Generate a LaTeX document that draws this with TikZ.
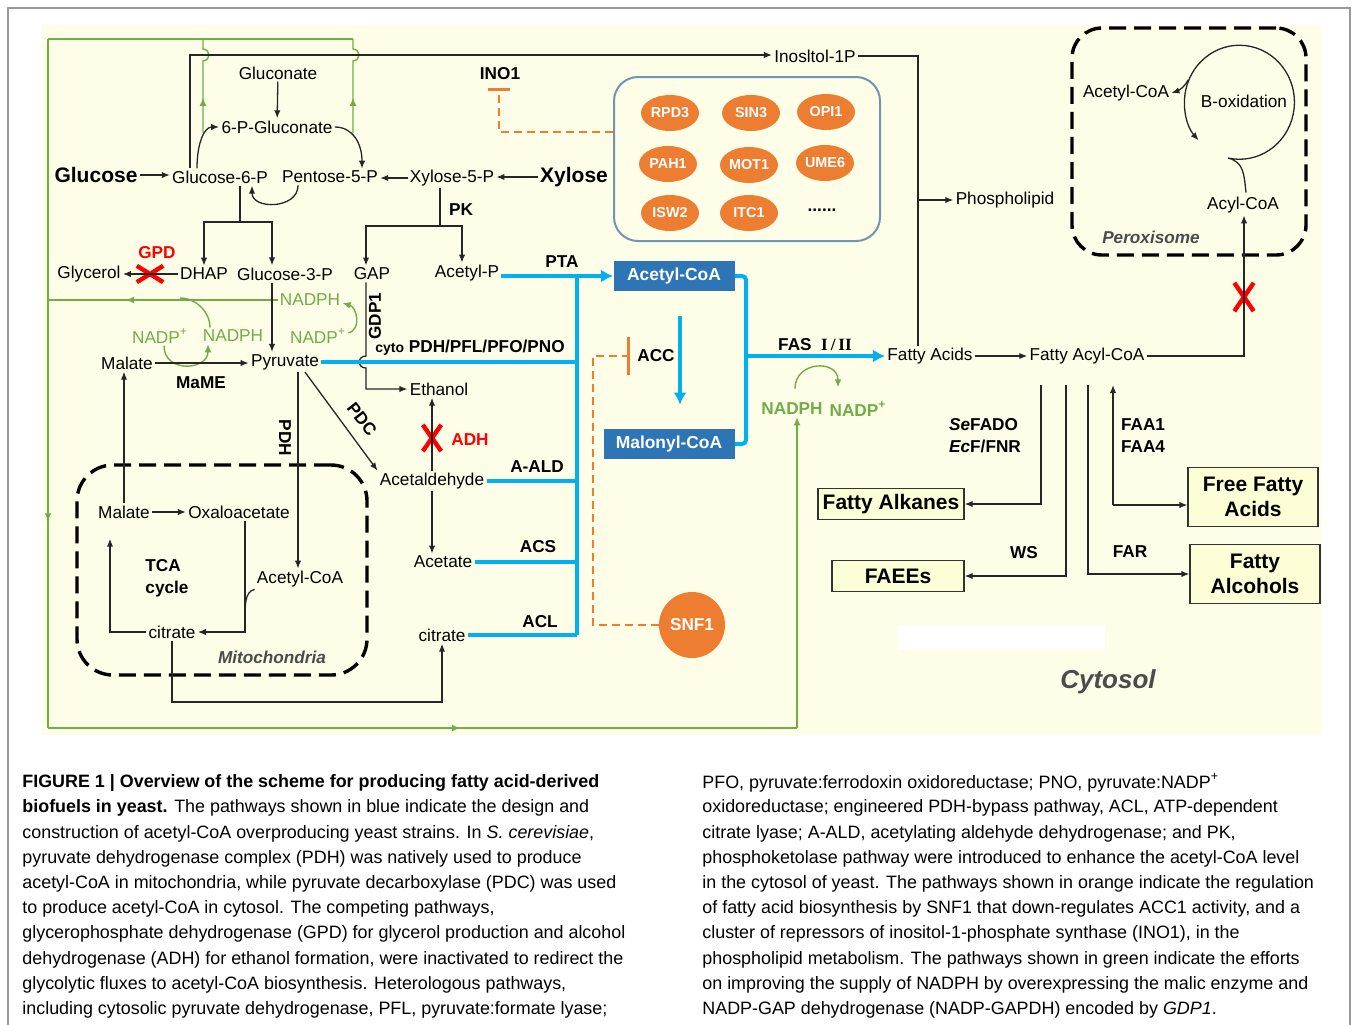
\documentclass[tikz,border=0pt]{standalone}
\usepackage{fontspec}
\setmainfont{Liberation Sans}
\newfontfamily\romannum{Liberation Serif}
\usetikzlibrary{positioning,arrows.meta,calc,shapes.geometric,shapes.misc,decorations.markings}
\definecolor{mybg}{RGB}{254,254,232}
\definecolor{mycyan}{RGB}{0,176,240}
\definecolor{myboxblue}{RGB}{46,117,182}
\definecolor{myorange}{RGB}{237,125,49}
\definecolor{mygreen}{RGB}{112,173,71}
\definecolor{myred}{RGB}{255,0,0}
\definecolor{mysteel}{RGB}{110,150,180}
\definecolor{myprod}{RGB}{254,254,214}
\definecolor{mygray}{RGB}{75,75,75}

\begin{document}
\begin{tikzpicture}[x=0.5pt,y=-0.5pt,
  met/.style={font=\fontsize{8.6}{10}\selectfont,inner sep=1pt},
  bigmet/.style={font=\fontsize{10.5}{12}\selectfont\bfseries,inner sep=1pt},
  enz/.style={font=\fontsize{8.6}{11}\selectfont\bfseries,inner sep=1pt},
  gtxt/.style={met,text=mygreen},
  gbold/.style={enz,text=mygreen},
  ko/.style={enz,text=myred},
  complab/.style={font=\fontsize{8.6}{10}\selectfont\bfseries\itshape,text=mygray},
  xmark/.style 2 args={cross out,draw=myred,line width=2.2pt,minimum width=#1,minimum height=#2,inner sep=0pt},
  bluebox/.style={fill=myboxblue,text=white,font=\fontsize{8.7}{10}\selectfont\bfseries,minimum height=15pt,inner sep=2pt},
  reg/.style={ellipse,fill=myorange,text=white,font=\fontsize{7.2}{9}\selectfont\bfseries,minimum width=29pt,minimum height=18pt,inner sep=0pt},
  prod/.style={draw=black!80,line width=0.6pt,fill=myprod,font=\fontsize{10.5}{12.5}\selectfont\bfseries,align=center,inner sep=2pt},
  blk/.style={draw=black!85,line width=0.65pt},
  flow/.style={blk,-{Latex[length=4pt,width=3.2pt]}},
  bflow/.style={draw=mycyan,line width=2pt},
  barrow/.style={bflow,-{Latex[length=6pt,width=6.5pt]}},
  gflow/.style={draw=mygreen,line width=0.7pt},
  garrow/.style={gflow,-{Latex[length=4pt,width=3.5pt]}},
  odash/.style={draw=myorange,line width=1.1pt,dash pattern=on 4pt off 2.5pt},
  compart/.style={draw=black,line width=1.7pt,dash pattern=on 8.5pt off 4pt,rounded corners=18pt},
  midtip/.style={postaction={decorate},decoration={markings,mark=at position #1 with {\arrow{Latex[length=4pt,width=3.5pt]}}}},
  captxt/.style={anchor=west,font=\fontsize{8.95}{10}\selectfont,inner sep=0pt}]

  \useasboundingbox (0,0) rectangle (1358,1024);
  \fill[white] (0,0) rectangle (1358,1024);
  \draw[black!40,line width=0.6pt] (8,1030) -- (8,8) -- (1350,8) -- (1350,1030);
  \fill[mybg] (42,25) rectangle (1322,735);
  \fill[white] (898,625) rectangle (1105,650);

  % compartments
  \node[compart,minimum width=145pt,minimum height=105pt] (mito) at (222,570) {};
  \node[compart,rounded corners=15pt,minimum width=117pt,minimum height=113.5pt] (perox) at (1189,141.5) {};
  \node[draw=mysteel,line width=1pt,rounded corners=12pt,minimum width=133pt,minimum height=82pt] (regbox) at (747,159) {};

  % pentose phosphate part
  \node[met] (gluconate) at (278,73) {Gluconate};
  \node[met] (pglu) at (277,127) {6-P-Gluconate};
  \node[bigmet] (glucose) at (96,175) {Glucose};
  \node[met] (g6p) at (220,177) {Glucose-6-P};
  \node[met] (p5p) at (330,177) {Pentose-5-P};
  \node[met] (x5p) at (452,178) {Xylose-5-P};
  \node[bigmet] (xylose) at (574,177) {Xylose};
  \node[met] (ino1p) at (815,56) {Inosltol-1P};
  \node[enz] (ino1) at (500,74) {INO1};
  \node[met] (plipid) at (1005,200) {Phospholipid};
  \node[enz] (pk) at (461,210) {PK};

  % glycolysis row
  \node[ko] (gpd) at (157,253) {GPD};
  \node[met] (glycerol) at (89,274) {Glycerol};
  \node[met] (dhap) at (204,274) {DHAP};
  \node[met] (g3p) at (285,274) {Glucose-3-P};
  \node[met] (gap) at (372,274) {GAP};
  \node[met] (acp) at (467,273) {Acetyl-P};
  \node[enz] (pta) at (562,262) {PTA};
  \node[xmark={11pt}{6pt}] (xgpd) at (150,274) {};

  % NADPH supply
  \node[gtxt] (nadph2) at (310,300) {NADPH};
  \node[gtxt] (nadp1) at (160,336) {NADP\textsuperscript{+}};
  \node[gtxt] (nadph1) at (233,336) {NADPH};
  \node[gtxt] (nadp2) at (318,336) {NADP\textsuperscript{+}};
  \node[enz,rotate=90] (gdp1) at (375,316) {GDP1};
  \node[enz] (cyto) at (470,348) {{\fontsize{7}{8}\selectfont cyto} PDH/PFL/PFO/PNO};

  % pyruvate node and branches
  \node[met] (malate) at (127,363) {Malate};
  \node[met] (pyr) at (285,362) {Pyruvate};
  \node[enz] (mame) at (201,383) {MaME};
  \node[met] (ethanol) at (439,389) {Ethanol};
  \node[enz,rotate=-90] (pdhlab) at (285,438) {PDH};
  \node[enz,rotate=-52] (pdc) at (362,419) {PDC};
  \node[xmark={7pt}{11pt}] (xadh) at (432,438) {};
  \node[ko] (adh) at (470,440) {ADH};
  \node[met] (acald) at (432,481) {Acetaldehyde};
  \node[enz] (aald) at (537,467) {A-ALD};
  \node[met] (acetate) at (443,562) {Acetate};
  \node[enz] (acs) at (538,547) {ACS};
  \node[met] (citrate) at (442,635) {citrate};
  \node[enz] (acl) at (540,622) {ACL};

  % mitochondria
  \node[met] (mmal) at (124,512) {Malate};
  \node[met] (oxa) at (239,512) {Oxaloacetate};
  \node[enz,align=left] (tca) at (167,578) {TCA\\cycle};
  \node[met] (macoa) at (300,579) {Acetyl-CoA};
  \node[met] (mcit) at (172,632) {citrate};
  \node[complab] (mitolab) at (272,657) {Mitochondria};

  % acetyl-CoA and malonyl-CoA
  \node[bluebox,minimum width=60.5pt] (acoa) at (674,276) {Acetyl-CoA};
  \node[bluebox,minimum width=65.5pt] (malcoa) at (669,444) {Malonyl-CoA};
  \node[enz] (acc) at (656,356) {ACC};
  \node[circle,fill=myorange,text=white,font=\fontsize{8.6}{10}\selectfont\bfseries,minimum size=33pt,inner sep=0pt] (snf1) at (692,625) {SNF1};

  % regulators of INO1
  \foreach \g/\x/\y in {RPD3/670/113,SIN3/751/113,OPI1/826/112,PAH1/668/164,MOT1/749/165,UME6/825/163,ISW2/670/213,ITC1/749/213}
    \node[reg] (\g) at (\x,\y) {\g};
  \node[enz] (dots) at (822,210) {......};

  % fatty acids
  \node[enz] (fas) at (815,345) {FAS~~{\romannum\bfseries I\,/\,II}};
  \node[met] (fa) at (930,356) {Fatty Acids};
  \node[met] (facoa) at (1087,356) {Fatty Acyl-CoA};
  \node[gbold] (nadph3) at (792,409) {NADPH};
  \node[gbold] (nadp3) at (858,409) {NADP\textsuperscript{+}};

  % peroxisome
  \node[met] (pacoa) at (1126,93) {Acetyl-CoA};
  \node[met] (boxid) at (1244,101) {B-oxidation};
  \node[met] (acyl) at (1243,205) {Acyl-CoA};
  \node[complab] (peroxlab) at (1151,237) {Peroxisome};
  \node[xmark={7.5pt}{12pt}] (xperox) at (1244,297) {};

  % products
  \node[prod,minimum width=73pt,minimum height=15.5pt] (alkanes) at (891,504) {Fatty Alkanes};
  \node[prod,minimum width=66pt,minimum height=15.5pt] (faees) at (898,576) {FAEEs};
  \node[prod,minimum width=65pt,minimum height=29.5pt] (ffa) at (1253,497) {Free Fatty\\Acids};
  \node[prod,minimum width=65pt,minimum height=29.5pt] (falc) at (1255,574) {Fatty\\Alcohols};
  \node[enz,align=left] (fado) at (985,436) {\textit{Se}FADO\\\textit{Ec}F/FNR};
  \node[enz,align=left] (faa) at (1143,436) {FAA1\\FAA4};
  \node[enz] (ws) at (1024,553) {WS};
  \node[enz] (far) at (1130,552) {FAR};
  \node[font=\fontsize{13}{15}\selectfont\bfseries\itshape,text=mygray] (cytosol) at (1108,682) {Cytosol};

  % junction points
  \coordinate (inoj) at (190,55);
  \coordinate (plj) at (918,200);
  \coordinate (inobar) at (499,132);
  \coordinate (gj) at (240,222);
  \coordinate (pkj) at (440,226);
  \coordinate (hopa) at (0,356);
  \coordinate (hopb) at (0,368);
  \coordinate (tt) at (577,276);
  \coordinate (tb) at (577,635);
  \coordinate (fj) at (746,356);
  \coordinate (snfj) at (593,625);
  \coordinate (tcaj) at (245,620);
  \coordinate (tcal) at (110,632);
  \coordinate (citj) at (172,702);
  \coordinate (acj) at (1244,356);
  \coordinate (boc) at (1240,100);
  \coordinate (gtl) at (48,39);
  \coordinate (gbl) at (48,728);
  \coordinate (gbr) at (797,728);
  \coordinate (gv1) at (203,133);
  \coordinate (gv2) at (353,133);
  \coordinate (ghopa) at (0,61);
  \coordinate (ghopb) at (0,49);
  \coordinate (gml) at (48,298);
  \coordinate (mej) at (180,298);
  \coordinate (fb1) at (1041,385);
  \coordinate (fb2) at (1066,385);
  \coordinate (fb3) at (1088,385);
  \coordinate (fb4) at (1113,385);
  \coordinate (fb5) at (1113,505);

  % green NADPH routes
  \draw[gflow] (gv2 |- gtl) -- (gtl);
  \draw[gflow,midtip=0.7] (gtl) -- (gbl);
  \draw[gflow,midtip=0.55] (gbl) -- (gbr);
  \draw[garrow] (gbr) -- (gbr |- nadph3.south);
  \draw[gflow,midtip=0.35] (gv1) -- (gv1 |- ghopa) .. controls +(8,-1) and +(8,1) .. (gv1 |- ghopb) -- (gv1 |- gtl);
  \draw[gflow,midtip=0.35] (gv2) -- (gv2 |- ghopa) .. controls +(8,-1) and +(8,1) .. (gv2 |- ghopb) -- (gv2 |- gtl);
  \draw[gflow,midtip=0.66] (nadph2.west) -- (nadph2.west -| gml);
  \draw[gflow] ($(nadph1.north)+(-23,0)$) .. controls +(0,-16) and +(16,0) .. (mej);
  \draw[garrow] ($(nadp1.south)+(4,0)$) .. controls +(0,28) and +(0,26) .. ($(nadph1.south)+(-25,0)$);
  \draw[garrow] ($(nadp2.east)+(0,-3)$) .. controls +(14,-4) and +(14,4) .. ($(nadph2.east)+(0,3)$);
  \draw[garrow] ($(nadph3.north)+(3,-12)$) .. controls +(0,-28) and +(0,-28) .. ($(nadp3.north)+(-20,-12)$);

  % pentose phosphate arrows
  \draw[flow] (glucose.east) -- (glucose.east -| g6p.west);
  \draw[flow] (gluconate) -- (pglu);
  \draw[flow] ($(g6p.north)+(-23,0)$) .. controls +(0,-25) and +(-15,0) .. (pglu.west);
  \draw[flow] (pglu.east) .. controls +(18,0) and +(0,-25) .. ($(p5p.north)+(32,0)$);
  \draw[flow] ($(p5p.south)+(-32,0)$) .. controls +(0,24) and +(0,24) .. ($(g6p.south)+(32,0)$);
  \draw[flow] (x5p.west) -- (x5p.west -| p5p.east);
  \draw[flow] (xylose.west) -- (xylose.west -| x5p.east);

  % inositol and phospholipid
  \draw[flow] (g6p.north -| inoj) -- (inoj) -- (inoj -| ino1p.west);
  \draw[blk] (ino1p.east) -| ($(fa.north)+(-12,0)$);
  \draw[flow] (plj) -- (plipid.west);
  \draw[odash,-{Bar[width=11pt,line width=1.5pt]}] (regbox.west |- inobar) -- (inobar) -- ($(ino1.south)+(-1,6)$);

  % glycolysis arrows
  \draw[blk] (g6p.south -| gj) -- (gj);
  \draw[flow] (gj) -| (dhap.north);
  \draw[flow] (gj) -| ($(g3p.north)+(-13,0)$);
  \draw[blk] (x5p.south -| pkj) -- (pkj);
  \draw[flow] (pkj) -| ($(gap.north)+(-6,0)$);
  \draw[flow] (pkj) -| ($(acp.north)+(-5,0)$);
  \draw[flow] (dhap.west) -- (glycerol.east);
  \coordinate (g3pd) at ($(g3p.south)+(-13,0)$);
  \draw[flow] (g3pd) -- (g3pd |- pyr.north);
  \coordinate (gapd) at ($(gap.south)+(-6,0)$);
  \draw[flow] (gapd) -- (gapd |- hopa) .. controls +(-9,0) and +(-9,0) .. (gapd |- hopb) -- (gapd |- ethanol.west) -- (ethanol.west);

  % pyruvate branches
  \draw[flow] (malate.east) -- (malate.east -| pyr.west);
  \coordinate (pdht) at ($(pyr.south)+(13,0)$);
  \draw[flow] (pdht) -- (pdht |- macoa.north);
  \draw[flow] ($(pyr.south)+(20,0)$) -- (acald.north west);
  \draw[flow] (acald.north) -- (acald.north |- ethanol.south);
  \draw[flow] (acald.south) -- (acald.south |- acetate.north);

  % TCA cycle
  \draw[flow] (mmal.north) -- (mmal.north |- malate.south);
  \draw[flow] (mmal.east) -- (oxa.west);
  \coordinate (oxd) at ($(oxa.south)+(6,0)$);
  \draw[flow] (oxd) |- (mcit.east);
  \draw[blk] (macoa.south west) .. controls +(-10,2) and +(0,-14) .. (tcaj);
  \draw[flow,shorten >=9pt] (mcit.west) -- (tcal) -- (tcal |- mmal.south);
  \draw[flow] (mcit.south) -- (citj) -| (citrate.south);

  % acetyl-CoA routes (blue)
  \draw[bflow] (tt) -- (tb);
  \draw[barrow] (acp.east |- tt) -- (acoa.west |- tt);
  \draw[bflow] (pyr.east) -- (pyr.east -| tt);
  \draw[bflow] (acald.east) -- (acald.east -| tt);
  \draw[bflow] (acetate.east) -- (acetate.east -| tt);
  \draw[bflow] (citrate.east) -- (citrate.east -| tt);
  \draw[bflow,rounded corners=2pt] (acoa.east) -| (fj) |- (malcoa.east);
  \draw[barrow] (fj) -- (fa.west);
  \draw[barrow] ($(acoa.south)+(6,25)$) -- ($(malcoa.north)+(11,-24)$);
  \draw[odash,-{Bar[width=19pt,line width=1.5pt]}] (snf1.west) -- (snfj) |- ($(acc.west)+(-5,0)$);

  % fatty acyl-CoA and products
  \draw[flow] (fa.east) -- (facoa.west);
  \draw[flow] (facoa.east) -- (acj) -- (acj |- acyl.south);
  \draw[flow] (fb1) |- (alkanes.east);
  \draw[flow] (fb2) |- (faees.east);
  \draw[flow] (fb3) |- (falc.west);
  \draw[flow] (fb5) -- (fb4);
  \draw[flow] (fb5) -- (fb5 -| ffa.west);

  % beta-oxidation cycle
  \draw[flow] ($(acyl.north)+(3,-2)$) .. controls +(-2,-18) and +(16,4) .. ($(boc)+(-12,58)$) arc[start angle=102,end angle=-222,x radius=55,y radius=57];
  \draw[flow] ($(boc)+(-52,-20)$) .. controls +(-4,8) and +(6,-2) .. (pacoa.east);

  % caption
  \foreach \t [count=\i] in {{\textbf{FIGURE 1 | Overview of the scheme for producing fatty acid-derived}},
    {\textbf{biofuels in yeast.} The pathways shown in blue indicate the design and},
    {construction of acetyl-CoA overproducing yeast strains. In \textit{S. cerevisiae},},
    {pyruvate dehydrogenase complex (PDH) was natively used to produce},
    {acetyl-CoA in mitochondria, while pyruvate decarboxylase (PDC) was used},
    {to produce acetyl-CoA in cytosol. The competing pathways,},
    {glycerophosphate dehydrogenase (GPD) for glycerol production and alcohol},
    {dehydrogenase (ADH) for ethanol formation, were inactivated to redirect the},
    {glycolytic fluxes to acetyl-CoA biosynthesis. Heterologous pathways,},
    {including cytosolic pyruvate dehydrogenase, PFL, pyruvate:formate lyase;}}
    \node[captxt] (capl\i) at (22,{757.8+25.2*\i}) {\t};
  \foreach \t [count=\i] in {{PFO, pyruvate:ferrodoxin oxidoreductase; PNO, pyruvate:NADP\textsuperscript{+}},
    {oxidoreductase; engineered PDH-bypass pathway, ACL, ATP-dependent},
    {citrate lyase; A-ALD, acetylating aldehyde dehydrogenase; and PK,},
    {phosphoketolase pathway were introduced to enhance the acetyl-CoA level},
    {in the cytosol of yeast. The pathways shown in orange indicate the regulation},
    {of fatty acid biosynthesis by SNF1 that down-regulates ACC1 activity, and a},
    {cluster of repressors of inositol-1-phosphate synthase (INO1), in the},
    {phospholipid metabolism. The pathways shown in green indicate the efforts},
    {on improving the supply of NADPH by overexpressing the malic enzyme and},
    {NADP-GAP dehydrogenase (NADP-GAPDH) encoded by \textit{GDP1}.}}
    \node[captxt] (capr\i) at (702,{757.8+25.2*\i}) {\t};
\end{tikzpicture}
\end{document}
